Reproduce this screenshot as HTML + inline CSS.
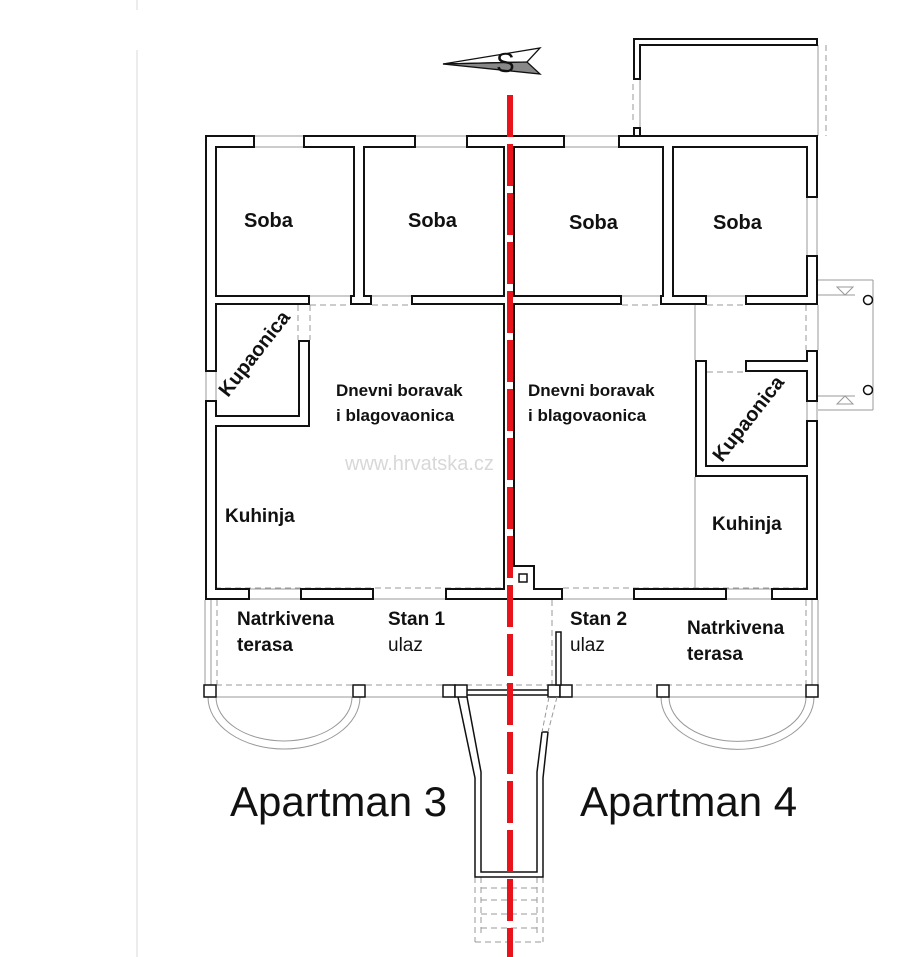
<!DOCTYPE html>
<html><head><meta charset="utf-8"><style>
html,body{margin:0;padding:0;background:#fff;}
svg{display:block;}
.b{font-family:"Liberation Sans",sans-serif;font-weight:bold;fill:#111;}
.n{font-family:"Liberation Sans",sans-serif;fill:#111;}
</style></head><body>
<svg width="908" height="957" viewBox="0 0 908 957" xmlns="http://www.w3.org/2000/svg">
<line x1="137" y1="0" x2="137" y2="10" stroke="#e6e6e6" stroke-width="1.5"/>
<line x1="137" y1="50" x2="137" y2="957" stroke="#e6e6e6" stroke-width="1.5"/>

<g stroke="#999" stroke-width="1" fill="none">
 <line x1="255" y1="136" x2="303" y2="136"/><line x1="255" y1="147" x2="303" y2="147"/>
 <line x1="416" y1="136" x2="466" y2="136"/><line x1="416" y1="147" x2="466" y2="147"/>
 <line x1="565" y1="136" x2="618" y2="136"/><line x1="565" y1="147" x2="618" y2="147"/>
 <line x1="807" y1="198" x2="807" y2="255"/><line x1="817" y1="198" x2="817" y2="255"/>
 <line x1="817" y1="402" x2="817" y2="420"/><line x1="807" y1="402" x2="807" y2="420"/>
 <line x1="206" y1="372" x2="206" y2="400"/><line x1="216" y1="372" x2="216" y2="400"/>
 <line x1="250" y1="589" x2="300" y2="589"/><line x1="250" y1="599" x2="300" y2="599"/>
 <line x1="374" y1="599" x2="445" y2="599"/><line x1="563" y1="599" x2="633" y2="599"/>
 <line x1="727" y1="599" x2="771" y2="599"/><line x1="727" y1="589" x2="771" y2="589"/>
 <line x1="310" y1="296" x2="350" y2="296"/><line x1="372" y1="296" x2="411" y2="296"/>
 <line x1="622" y1="296" x2="660" y2="296"/><line x1="707" y1="296" x2="745" y2="296"/>
 <line x1="695" y1="305" x2="695" y2="360"/><line x1="695" y1="477" x2="695" y2="588"/>
 <line x1="640" y1="80" x2="640" y2="128"/><line x1="818" y1="45" x2="818" y2="136"/>
 <line x1="818" y1="280" x2="873" y2="280"/><line x1="873" y1="280" x2="873" y2="410"/><line x1="818" y1="410" x2="873" y2="410"/>
 <line x1="818" y1="295" x2="855" y2="295"/><line x1="818" y1="396" x2="855" y2="396"/>
 <line x1="818" y1="305" x2="818" y2="350"/>
 <line x1="205" y1="600" x2="205" y2="685"/><line x1="211" y1="600" x2="211" y2="685"/>
 <line x1="818" y1="600" x2="818" y2="685"/><line x1="812" y1="600" x2="812" y2="685"/>
 <line x1="216" y1="697" x2="352" y2="697"/><line x1="567" y1="697" x2="806" y2="697"/>
 <line x1="364" y1="697" x2="443" y2="697"/>
 <path d="M208 697 A76 52 0 0 0 360 697"/><path d="M216 697 A68 44 0 0 0 352 697"/>
 <path d="M661 697 A76 52 0 0 0 814 697"/><path d="M669 697 A68 44 0 0 0 806 697"/>
</g>
<g stroke="#999" stroke-width="1" fill="none" stroke-dasharray="6,4">
 <line x1="633" y1="120" x2="633" y2="80"/><line x1="826" y1="45" x2="826" y2="136"/>
 <line x1="310" y1="305" x2="350" y2="305"/><line x1="372" y1="305" x2="411" y2="305"/>
 <line x1="622" y1="305" x2="660" y2="305"/><line x1="298" y1="305" x2="298" y2="340"/><line x1="310" y1="305" x2="310" y2="340"/>
 <line x1="707" y1="305" x2="745" y2="305"/><line x1="707" y1="372" x2="745" y2="372"/>
 <line x1="806" y1="305" x2="806" y2="350"/>
 <line x1="205" y1="588" x2="503" y2="588"/><line x1="563" y1="588" x2="818" y2="588"/>
 <line x1="217" y1="600" x2="217" y2="685"/><line x1="806" y1="600" x2="806" y2="685"/>
 <line x1="216" y1="685" x2="806" y2="685"/>
 <line x1="552" y1="600" x2="552" y2="685"/>
 <line x1="475" y1="877" x2="475" y2="942"/><line x1="543" y1="877" x2="543" y2="942"/>
 <line x1="481" y1="877" x2="481" y2="935"/><line x1="537" y1="877" x2="537" y2="935"/>
 <line x1="475" y1="942" x2="543" y2="942"/><line x1="481" y1="888" x2="537" y2="888"/>
 <line x1="481" y1="900" x2="537" y2="900"/><line x1="481" y1="914" x2="537" y2="914"/><line x1="481" y1="928" x2="537" y2="928"/>
</g>
<circle cx="868" cy="300" r="4.5" fill="#fff" stroke="#111" stroke-width="1.5"/>
<circle cx="868" cy="390" r="4.5" fill="#fff" stroke="#111" stroke-width="1.5"/>
<path d="M837 287 L853 287 L845 295 Z M837 404 L853 404 L845 396 Z" fill="none" stroke="#999"/>

<g fill="#111">
<rect x="205" y="135" width="50" height="13"/><rect x="303" y="135" width="113" height="13"/><rect x="466" y="135" width="99" height="13"/><rect x="618" y="135" width="200" height="13"/>
<rect x="205" y="135" width="12" height="237"/><rect x="205" y="400" width="12" height="200"/>
<rect x="353" y="135" width="12" height="170"/><rect x="662" y="135" width="12" height="170"/>
<rect x="503" y="135" width="12" height="465"/>
<rect x="806" y="135" width="12" height="63"/><rect x="806" y="255" width="12" height="50"/><rect x="806" y="350" width="12" height="52"/><rect x="806" y="420" width="12" height="180"/>
<rect x="205" y="295" width="105" height="10"/><rect x="350" y="295" width="22" height="10"/><rect x="411" y="295" width="104" height="10"/><rect x="503" y="295" width="119" height="10"/><rect x="660" y="295" width="47" height="10"/><rect x="745" y="295" width="73" height="10"/>
<rect x="298" y="340" width="12" height="87"/><rect x="205" y="415" width="105" height="12"/>
<rect x="205" y="588" width="45" height="12"/><rect x="300" y="588" width="74" height="12"/><rect x="445" y="588" width="118" height="12"/><rect x="633" y="588" width="94" height="12"/><rect x="771" y="588" width="47" height="12"/>
<rect x="503" y="565" width="32" height="35"/>
<rect x="695" y="360" width="12" height="117"/><rect x="745" y="360" width="73" height="12"/><rect x="695" y="465" width="123" height="12"/>
<rect x="633" y="38" width="185" height="8"/><rect x="633" y="38" width="8" height="42"/><rect x="633" y="127" width="8" height="10"/>
</g>
<g fill="#fff">
<rect x="207" y="137" width="46" height="9"/><rect x="305" y="137" width="109" height="9"/><rect x="468" y="137" width="95" height="9"/><rect x="620" y="137" width="196" height="9"/>
<rect x="207" y="137" width="8" height="233"/><rect x="207" y="402" width="8" height="196"/>
<rect x="355" y="137" width="8" height="166"/><rect x="664" y="137" width="8" height="166"/>
<rect x="505" y="137" width="8" height="461"/>
<rect x="808" y="137" width="8" height="59"/><rect x="808" y="257" width="8" height="46"/><rect x="808" y="352" width="8" height="48"/><rect x="808" y="422" width="8" height="176"/>
<rect x="207" y="297" width="101" height="6"/><rect x="352" y="297" width="18" height="6"/><rect x="413" y="297" width="100" height="6"/><rect x="505" y="297" width="115" height="6"/><rect x="662" y="297" width="43" height="6"/><rect x="747" y="297" width="69" height="6"/>
<rect x="300" y="342" width="8" height="83"/><rect x="207" y="417" width="101" height="8"/>
<rect x="207" y="590" width="41" height="8"/><rect x="302" y="590" width="70" height="8"/><rect x="447" y="590" width="114" height="8"/><rect x="635" y="590" width="90" height="8"/><rect x="773" y="590" width="43" height="8"/>
<rect x="505" y="567" width="28" height="31"/>
<rect x="697" y="362" width="8" height="113"/><rect x="747" y="362" width="69" height="8"/><rect x="697" y="467" width="119" height="8"/>
<rect x="635" y="40" width="181" height="4"/><rect x="635" y="40" width="4" height="38"/><rect x="635" y="129" width="4" height="6"/>
</g>
<rect x="519" y="574" width="8" height="8" fill="#fff" stroke="#111" stroke-width="1.5"/>

<g fill="#fff" stroke="#111" stroke-width="1.5">
<rect x="204" y="685" width="12" height="12"/><rect x="353" y="685" width="12" height="12"/>
<rect x="443" y="685" width="12" height="12"/><rect x="455" y="685" width="12" height="12"/>
<rect x="548" y="685" width="12" height="12"/><rect x="560" y="685" width="12" height="12"/>
<rect x="657" y="685" width="12" height="12"/><rect x="806" y="685" width="12" height="12"/>
<rect x="556" y="632" width="5" height="53"/>
</g>
<g stroke="#111" stroke-width="1.5" fill="none">
<line x1="467" y1="690" x2="548" y2="690"/><line x1="467" y1="695" x2="548" y2="695"/>
<path d="M458 697 L475 778 L475 877 L543 877 L543 778 L548 732"/>
<path d="M467 697 L481 772 L481 872 L537 872 L537 772 L542 732"/>
<line x1="542" y1="732" x2="548" y2="732"/>
</g>
<g stroke="#999" stroke-width="1" stroke-dasharray="5,3"><line x1="557" y1="697" x2="548" y2="732"/><line x1="549" y1="697" x2="542" y2="732"/></g>

<line x1="510" y1="95" x2="510" y2="957" stroke="#e8141c" stroke-width="6" stroke-dasharray="42,7"/>

<path d="M443 64 L540 48 L527 62 Z" fill="#fff" stroke="#111" stroke-width="1.3"/>
<path d="M443 64 L527 62 L540 74 Z" fill="#888" stroke="#111" stroke-width="1.3"/>
<text x="496" y="72" class="n" font-size="28">S</text>

<text x="345" y="470" class="n" font-size="20" style="fill:#d8d8d8">www.hrvatska.cz</text>

<g font-size="20">
<text x="244" y="227" class="b">Soba</text><text x="408" y="227" class="b">Soba</text>
<text x="569" y="229" class="b">Soba</text><text x="713" y="229" class="b">Soba</text>
</g>
<text class="b" font-size="20" transform="translate(228,398) rotate(-52)">Kupaonica</text>
<text class="b" font-size="20" transform="translate(722,463) rotate(-52)">Kupaonica</text>
<g font-size="17">
<text x="336" y="396" class="b">Dnevni boravak</text><text x="336" y="421" class="b">i blagovaonica</text>
<text x="528" y="396" class="b">Dnevni boravak</text><text x="528" y="421" class="b">i blagovaonica</text>
</g>
<g font-size="19">
<text x="225" y="522" class="b">Kuhinja</text><text x="712" y="530" class="b">Kuhinja</text>
<text x="237" y="625" class="b">Natrkivena</text><text x="237" y="651" class="b">terasa</text>
<text x="687" y="634" class="b">Natrkivena</text><text x="687" y="660" class="b">terasa</text>
<text x="388" y="625" class="b">Stan 1</text><text x="388" y="651" class="n">ulaz</text>
<text x="570" y="625" class="b">Stan 2</text><text x="570" y="651" class="n">ulaz</text>
</g>
<text x="230" y="816" class="n" font-size="42">Apartman 3</text>
<text x="580" y="816" class="n" font-size="42">Apartman 4</text>
</svg>
</body></html>
